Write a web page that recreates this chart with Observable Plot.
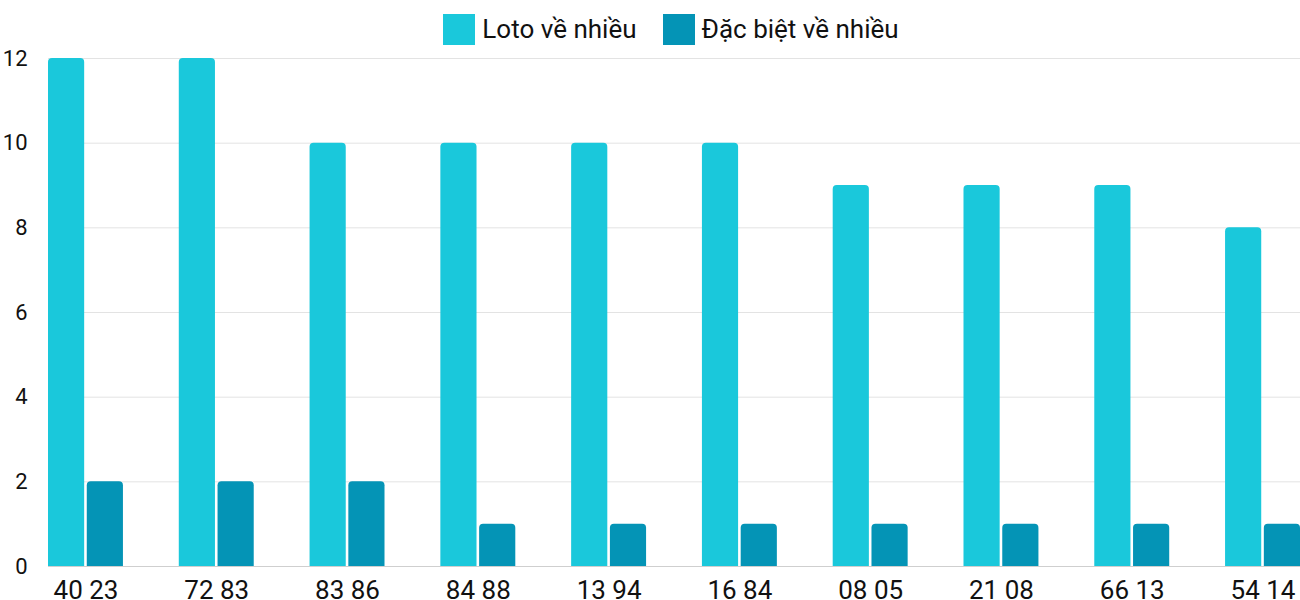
<!DOCTYPE html>
<html>
<head>
<meta charset="utf-8">
<script src="https://cdn.jsdelivr.net/npm/d3@7"></script>
<script src="https://cdn.jsdelivr.net/npm/@observablehq/plot@0.6"></script>
<style>
  html, body { margin: 0; padding: 0; background: #fff; }
  body { width: 1300px; font-family: Roboto, "Noto Sans", sans-serif; }
  .legend { height: 50px; display: flex; align-items: center; justify-content: center; padding-left: 42px; padding-top: 8px; box-sizing: border-box; font-size: 26px; color: #111; }
  .legend .item { display: flex; align-items: center; margin: 0 13px; }
  .legend .sw { width: 32px; height: 31px; margin-right: 7px; }
</style>
</head>
<body>
<div id="legend" class="legend"></div>
<div id="chart"></div>
<script>
const categories = ["40 23", "72 83", "83 86", "84 88", "13 94", "16 84", "08 05", "21 08", "66 13", "54 14"];
const lotoValues = [12, 12, 10, 10, 10, 10, 9, 9, 9, 8];
const dbValues = [2, 2, 2, 1, 1, 1, 1, 1, 1, 1];
const seriesNames = ["Loto về nhiều", "Đặc biệt về nhiều"];
const seriesColors = ["#1ac8db", "#0494b6"];
const yTicks = [0, 2, 4, 6, 8, 10, 12];

const loto = categories.map((c, i) => ({cat: c, value: lotoValues[i]}));
const db = categories.map((c, i) => ({cat: c, value: dbValues[i]}));

// legend
const legend = document.getElementById("legend");
seriesNames.forEach((name, i) => {
  const item = document.createElement("div");
  item.className = "item";
  const sw = document.createElement("span");
  sw.className = "sw";
  sw.style.background = seriesColors[i];
  const t = document.createElement("span");
  t.textContent = name;
  item.appendChild(sw);
  item.appendChild(t);
  legend.appendChild(item);
});

const width = 1300, marginLeft = 48, marginRight = 0;
const paddingInner = 0.427;
const step = (width - marginLeft - marginRight) / (categories.length - paddingInner);
const bandwidth = step * (1 - paddingInner);
const half = bandwidth / 2 + 1.3;

// rounded-top bars: rounded rect extended below the baseline and clipped to the frame
const bars = (data, color, side) => {
  const inset = side === "left" ? {insetRight: half} : {insetLeft: half};
  return Plot.barY(data, {x: "cat", y1: -0.3, y2: "value", fill: color, rx: 4, clip: true, ...inset});
};

const chart = Plot.plot({
  width,
  height: 550,
  marginLeft,
  marginRight,
  marginTop: 8,
  marginBottom: 34,
  style: {fontFamily: "Roboto, 'Noto Sans', sans-serif", color: "#111", background: "#fff"},
  x: {domain: categories, paddingInner, paddingOuter: 0, align: 0.5, round: false},
  y: {domain: [0, 12]},
  marks: [
    Plot.ruleY(yTicks.filter(d => d > 0), {stroke: "#e3e3e3", strokeWidth: 1}),
    bars(loto, seriesColors[0], "left"),
    bars(db, seriesColors[1], "right"),
    Plot.ruleY([0], {stroke: "#cfcfcf", strokeWidth: 1}),
    Plot.axisY({ticks: yTicks, tickSize: 0, tickPadding: 21, fontSize: 22, label: null, fill: "#111"}),
    Plot.axisX({tickSize: 0, tickPadding: 14, fontSize: 26, label: null, fill: "#111"})
  ]
});
document.getElementById("chart").appendChild(chart);
</script>
</body>
</html>
